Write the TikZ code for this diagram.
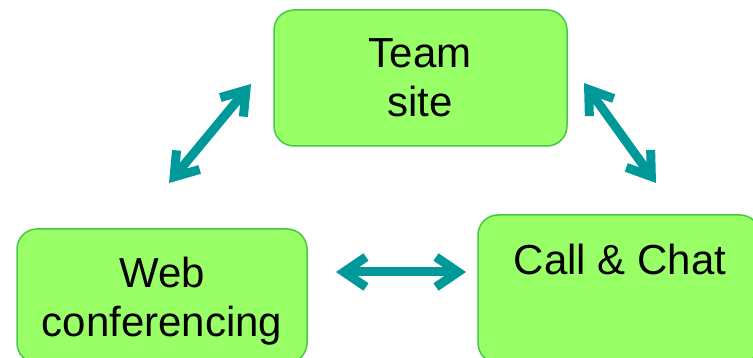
\documentclass[tikz,border=0pt]{standalone}
\usepackage{fontspec}
\setmainfont{Liberation Sans}
\usetikzlibrary{arrows.meta}
\definecolor{boxfill}{RGB}{153,255,102}
\definecolor{boxline}{RGB}{70,200,70}
\definecolor{teal2}{RGB}{0,153,153}
\tikzset{
  box/.style={draw=boxline, fill=boxfill, line width=1.5pt, rounded corners=20pt, inner sep=0pt},
  txt/.style={inner sep=0pt, align=center, anchor=north, font=\fontsize{42pt}{49pt}\selectfont},
  link/.style={draw=teal2, line width=9pt, {Straight Barb[length=22pt,width=30pt]}-{Straight Barb[length=22pt,width=30pt]}}
}
\begin{document}
\begin{tikzpicture}[x=1pt,y=-1pt]
\clip (0,0) rectangle (753,358);
\fill[white] (0,0) rectangle (753,358);
% boxes
\node[box, minimum width=293pt, minimum height=136pt] (team) at (420.5,78) {};
\node[box, minimum width=290pt, minimum height=134pt] (web) at (162,296) {};
\node[box, minimum width=282pt, minimum height=148pt] (call) at (619,289) {};
% texts
\node[txt] (teamtxt) at (420,38) {Team\\site};
\node[txt] (webtxt) at (162,257) {Web\\conferencing};
\node[txt] (calltxt) at (620,244) {Call \& Chat};
% arrow ends
\coordinate (l1) at (251,84);
\coordinate (l2) at (169,183);
\coordinate (r1) at (584,83);
\coordinate (r2) at (656,183);
\coordinate (m1) at (336,272);
\coordinate (m2) at (466,272);
\draw[link] (l2) -- (l1);
\draw[link] (r1) -- (r2);
\draw[link] (m1) -- (m2);
\end{tikzpicture}
\end{document}
